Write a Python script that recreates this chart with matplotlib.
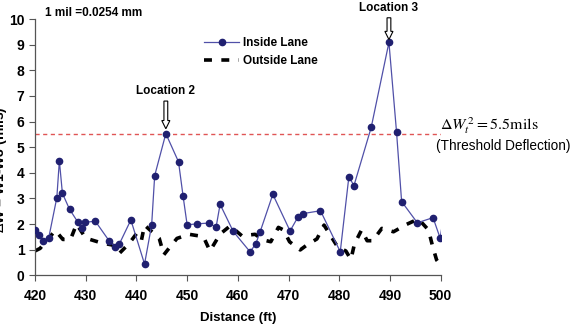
import matplotlib
matplotlib.use("Agg")
import matplotlib.pyplot as plt
from matplotlib.patches import FancyArrow

plt.rcParams['font.family'] = ['Liberation Sans', 'DejaVu Sans']

# Inside lane (distance ft, deflection mils)
inside_x = [420.0, 420.8, 421.5, 422.7, 424.3, 424.8, 425.4, 426.8, 428.4, 429.2,
            429.8, 431.9, 434.6, 435.8, 436.6, 438.9, 441.6, 443.0, 443.6, 445.8,
            448.3, 449.2, 450.0, 452.0, 454.4, 455.7, 456.5, 459.1, 462.4, 463.5,
            464.4, 466.9, 470.3, 471.9, 472.9, 476.3, 480.2, 481.9, 482.9, 486.3,
            489.8, 491.3, 492.3, 495.4, 498.5, 499.9, 500.7]
inside_y = [1.75, 1.57, 1.35, 1.46, 3.03, 4.47, 3.2, 2.58, 2.09, 1.83,
            2.07, 2.11, 1.35, 1.12, 1.21, 2.16, 0.44, 1.96, 3.89, 5.53,
            4.43, 3.09, 1.97, 2.01, 2.04, 1.87, 2.77, 1.71, 0.92, 1.21,
            1.70, 3.16, 1.73, 2.29, 2.41, 2.52, 0.92, 3.85, 3.5, 5.77,
            9.09, 5.59, 2.88, 2.05, 2.25, 1.45, 2.45]

# Outside lane
outside_x = [420.0, 421.0, 424.0, 425.5, 427.0, 428.2, 430.0, 433.0, 435.3, 436.6,
             438.6, 440.1, 441.0, 441.6, 444.5, 445.4, 446.2, 448.0, 450.4, 453.2,
             454.5, 456.5, 458.5, 460.8, 463.4, 465.0, 466.5, 468.0, 469.0, 470.2,
             472.3, 473.6, 475.6, 477.0, 479.7, 481.3, 482.3, 483.0, 484.4, 485.5,
             486.6, 488.4, 490.7, 493.3, 495.6, 497.6, 498.4, 499.2, 500.6]
outside_y = [0.95, 1.05, 1.75, 1.4, 1.4, 2.0, 1.45, 1.27, 1.18, 0.85,
             1.25, 1.65, 1.38, 1.96, 1.44, 0.8, 1.0, 1.44, 1.6, 1.51,
             0.95, 1.61, 1.93, 1.54, 1.6, 1.38, 1.31, 1.87, 1.77, 1.31,
             0.99, 1.18, 1.42, 1.96, 1.1, 0.95, 0.62, 1.22, 1.77, 1.35,
             1.35, 1.83, 1.7, 1.99, 2.2, 1.77, 1.14, 0.6, 0.22]

threshold = 5.5
x_ticks = [420, 430, 440, 450, 460, 470, 480, 490, 500]
y_ticks = list(range(0, 11))

fig = plt.figure(figsize=(5.77, 3.26), dpi=100)
ax = fig.add_axes([0.0607, 0.1555, 0.703, 0.786])

ax.plot(outside_x, outside_y, color='black', lw=2.6, linestyle=(0, (2.2, 2.6)),
        label='Outside Lane', zorder=2)
ax.plot(inside_x, inside_y, color='#5050a8', lw=0.9, marker='o', ms=4.5,
        mfc='#202070', mec='#202070', markevery=list(range(len(inside_x) - 1)),
        label='Inside Lane', zorder=3)
ax.axhline(threshold, color='#e05555', lw=1.0, linestyle=(0, (3, 2.5)), zorder=1)

ax.set_xlim(420, 500)
ax.set_ylim(0, 10)
ax.set_xticks(x_ticks)
ax.set_yticks(y_ticks)
for s in ['top', 'right']:
    ax.spines[s].set_visible(False)
for s in ['left', 'bottom']:
    ax.spines[s].set_color('#555555')
    ax.spines[s].set_linewidth(0.9)
ax.tick_params(axis='both', colors='#555555', length=4, width=0.8,
               labelcolor='black', labelsize=10)
for lab in ax.get_xticklabels() + ax.get_yticklabels():
    lab.set_fontweight('bold')
ax.tick_params(axis='x', pad=6)

ax.set_xlabel('Distance (ft)', fontsize=9.5, fontweight='bold', labelpad=6)
fig.text(0.0, 0.48, r'$\Delta$W = W1-W3 (mils)', rotation=90, fontsize=10,
         fontweight='bold', ha='center', va='center')

handles, labels = ax.get_legend_handles_labels()
leg = ax.legend([handles[1], handles[0]], [labels[1], labels[0]],
                loc='upper left', bbox_to_anchor=(0.39, 0.97), frameon=False,
                prop={'weight': 'bold', 'size': 8.5}, handlelength=3.0,
                handletextpad=0.3, labelspacing=0.5)

ax.text(0.025, 1.023, '1 mil =0.0254 mm', transform=ax.transAxes, fontsize=8.5,
        fontweight='bold', va='center', ha='left')

# Location annotations
for (lx, ly_tip, ly_top, txt, ty) in [(445.8, 5.72, 6.8, 'Location 2', 7.2),
                                      (489.8, 9.2, 10.05, 'Location 3', 10.42)]:
    ax.add_patch(FancyArrow(lx, ly_top, 0, ly_tip - ly_top, width=0.75,
                            head_width=1.6, head_length=0.32,
                            length_includes_head=True, fc='white', ec='black',
                            lw=0.8, clip_on=False, zorder=5,
                            transform=ax.transData))
    ax.text(lx, ty, txt, fontsize=8.5, fontweight='bold', ha='center',
            va='center', clip_on=False)

fig.text(0.762, 0.615, r'$\Delta W_t^{\,2} = 5.5\mathrm{mils}$', fontsize=11.5,
         math_fontfamily='stix', ha='left', va='center')
fig.text(0.756, 0.553, '(Threshold Deflection)', fontsize=9.8, ha='left',
         va='center')

fig.savefig('out.png', dpi=100)
